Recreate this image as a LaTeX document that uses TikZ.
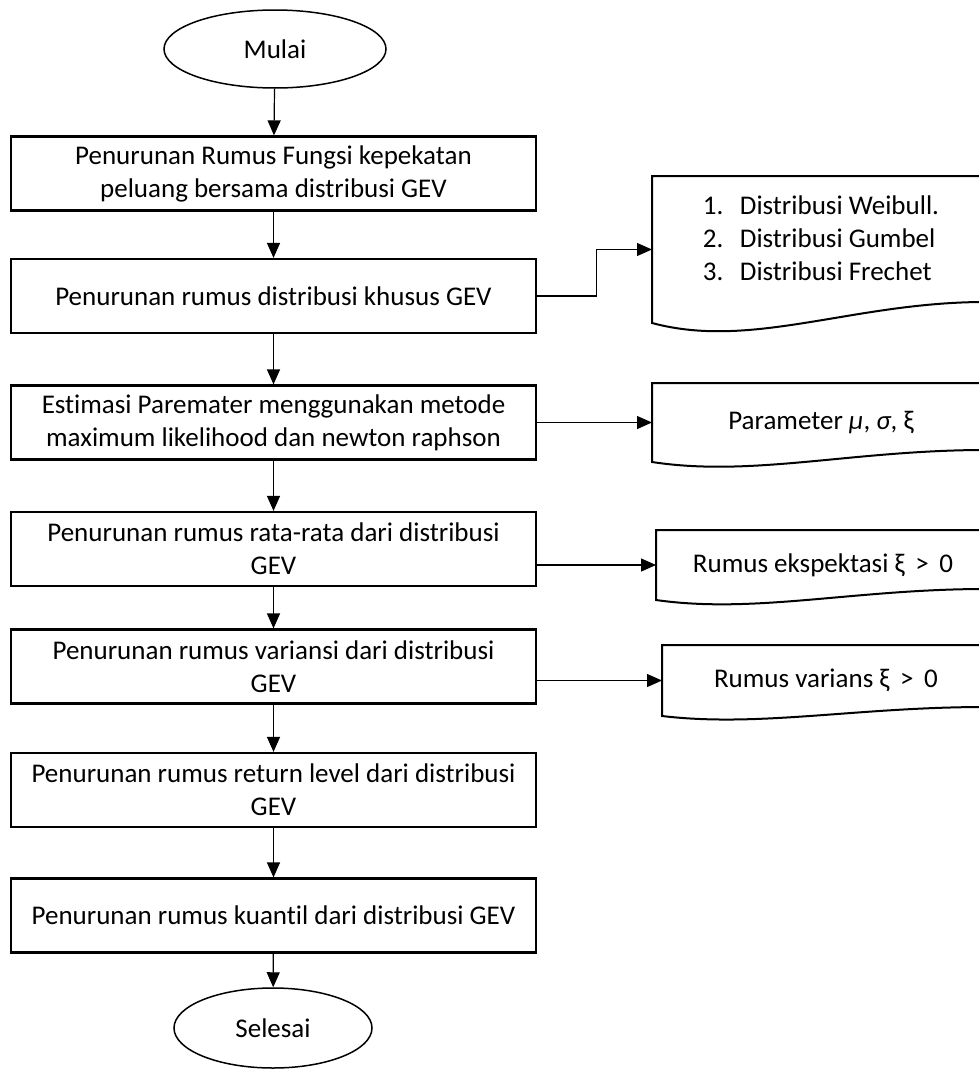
\documentclass[tikz,border=0pt]{standalone}
\usepackage{fontspec}
\setmainfont{Carlito}[Ligatures=NoCommon]
\usetikzlibrary{shapes.geometric,arrows.meta,calc}
% document shape: left, top and right edges, wavy bottom
\newcommand\docwave[3]{%
  \draw[docline] ($(#1.south east)+(0,-#3)$) -- (#1.north east) -- (#1.north west) -- (#1.south west)
    .. controls +(0.3*#2,1.3*#3) and +(-0.4*#2,-0.05*#3) .. ($(#1.south east)+(0,-#3)$);
}

\begin{document}
\begin{tikzpicture}[x=1pt, y=-1pt, >={Triangle[width=13pt,length=15pt]},
  every node/.style={font=\fontsize{27}{33}\selectfont},
  box/.style={draw, line width=2.2pt, minimum width=525pt, minimum height=74pt, inner sep=0pt, align=center},
  terminal/.style={draw, ellipse, line width=1.5pt, inner sep=0pt},
  doc/.style={inner sep=0pt, outer sep=0pt, align=center},
  docline/.style={line width=2pt},
  line/.style={->, line width=1.2pt}]
  \useasboundingbox (0,0) rectangle (979,1071);

  \node[terminal, minimum width=222pt, minimum height=78pt] (mulai) at (275,49) {Mulai};
  \node[box] (fungsi) at (273.5,173.5) {Penurunan Rumus Fungsi kepekatan\\peluang bersama distribusi GEV};
  \node[box] (khusus) at (273.5,296) {Penurunan rumus distribusi khusus GEV};
  \node[box] (estimasi) at (273.5,422.5) {Estimasi Paremater menggunakan metode\\maximum likelihood dan newton raphson};
  \node[box] (ratarata) at (273.5,549) {Penurunan rumus rata-rata dari distribusi\\GEV};
  \node[box] (variansi) at (273.5,666.5) {Penurunan rumus variansi dari distribusi\\GEV};
  \node[box] (return) at (273.5,790) {Penurunan rumus return level dari distribusi\\GEV};
  \node[box] (kuantil) at (273.5,915.5) {Penurunan rumus kuantil dari distribusi GEV};
  \node[terminal, minimum width=198pt, minimum height=80pt] (selesai) at (273,1028) {Selesai};

  % hasil di kanan
  \node[doc, minimum width=338pt, minimum height=147pt] (daftar) at (821,249.5)
    {\raisebox{2pt}[0pt][0pt]{\begin{tabular}{@{}l@{}}
      \makebox[37pt][l]{1.}Distribusi Weibull.\\
      \makebox[37pt][l]{2.}Distribusi Gumbel\\
      \makebox[37pt][l]{3.}Distribusi Frechet
    \end{tabular}}};
  \node[doc, minimum width=338pt, minimum height=79pt] (param) at (821,422.5)
    {Parameter {\itshape μ}, {\itshape σ}, ξ};
  \node[doc, minimum width=334pt, minimum height=70pt] (ekspek) at (823,565)
    {Rumus ekspektasi ξ \,>\, 0};
  \node[doc, minimum width=328pt, minimum height=71pt] (varhasil) at (826,680.5)
    {Rumus varians ξ \,>\, 0};
  \docwave{daftar}{338}{21}
  \docwave{param}{338}{12}
  \docwave{ekspek}{334}{11}
  \docwave{varhasil}{328}{9}

  \draw[line] (mulai) -- (fungsi);
  \draw[line] (fungsi) -- (khusus);
  \draw[line] (khusus) -- (estimasi);
  \draw[line] (estimasi) -- (ratarata);
  \draw[line] (ratarata) -- (variansi);
  \draw[line] (variansi) -- (return);
  \draw[line] (return) -- (kuantil);
  \draw[line] (kuantil) -- (selesai);

  \draw[line] (khusus.east) -- ++(59,0) |- (daftar.west);
  \draw[line] (estimasi.east) -- (param.west);
  \draw[line] (ratarata.east |- ekspek.west) -- (ekspek.west);
  \draw[line] (variansi.east |- varhasil.west) -- (varhasil.west);
\end{tikzpicture}
\end{document}
